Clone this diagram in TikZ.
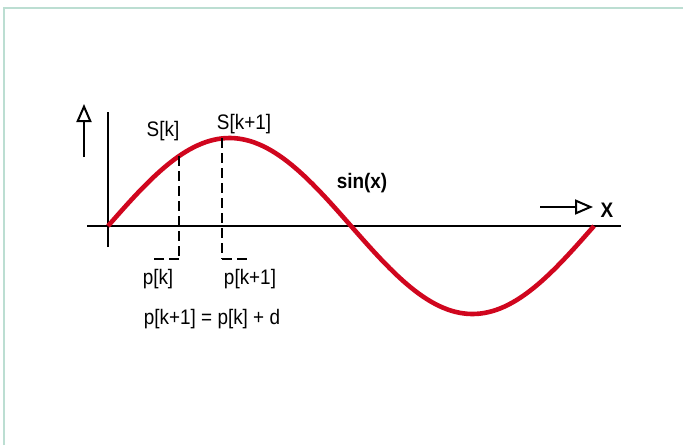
\documentclass[tikz,border=0pt]{standalone}
\usepackage{fontspec}
\setmainfont{Liberation Sans}
\newfontfamily\narrowfont[FakeStretch=0.9, BoldFont={Liberation Sans Bold}, BoldFeatures={FakeStretch=0.9}]{Liberation Sans}
\usetikzlibrary{arrows.meta}
\definecolor{sinred}{RGB}{208,6,30}
\definecolor{framegreen}{RGB}{188,222,210}

\begin{document}
\begin{tikzpicture}[
    x=1pt, y=-1pt,
    lbl/.style={inner sep=0pt, font=\narrowfont\fontsize{21}{23}\selectfont},
    blbl/.style={lbl, font=\narrowfont\fontsize{21}{23}\selectfont\bfseries},
    axis/.style={line width=2.4pt},
    guide/.style={line width=1.8pt, dash pattern=on 10pt off 5pt},
    dirarr/.style={line width=2.2pt, -{Triangle[open, length=18pt, width=15pt, line width=2pt]}},
]
\useasboundingbox (0,0) rectangle (683,445);
% frame
\draw[framegreen, line width=2.2pt] (4,445) -- (4,8) -- (683,8);

% axes
\coordinate (xl) at (87,226);
\coordinate (xr) at (621,226);
\coordinate (yb) at (108,247);
\coordinate (yt) at (108,112);
\draw[axis] (xl) -- (xr);
\draw[axis] (yb) -- (yt);

% curve
\draw[sinred, line width=4.6pt] plot[domain=108:594, samples=120] (\x, {226-88*sin((\x-108)/486*360)});

% direction arrows
\coordinate (ua) at (84,157);
\coordinate (ub) at (84,104);
\draw[dirarr] (ua) -- (ub);
\coordinate (ra) at (540,207);
\coordinate (rb) at (593,207);
\draw[dirarr] (ra) -- (rb);

% samples
\coordinate (s1) at (179,{226-88*sin((179-108)/486*360)});
\coordinate (s1b) at (179,259);
\coordinate (p1) at (153,259);
\coordinate (s2) at (222,{226-88*sin((222-108)/486*360)});
\coordinate (s2b) at (222,259);
\coordinate (p2) at (249,259);
\draw[guide] (s1) -- (s1b);
\draw[guide] (s1b) -- (p1);
\draw[guide] (s2) -- (s2b);
\draw[guide] (s2b) -- (p2);

% labels
\node[lbl] (sk) at (163,131) {S[k]};
\node[lbl] (sk1) at (244,124) {S[k+1]};
\node[lbl] (pk) at (158,279) {p[k]};
\node[lbl] (pk1) at (250,279) {p[k+1]};
\node[lbl] (eq) at (212,319) {p[k+1] = p[k] + d};
\node[blbl] (sinx) at (362,183) {sin(x)};
\node[blbl] (xlbl) at (607,210) {X};
\end{tikzpicture}
\end{document}
